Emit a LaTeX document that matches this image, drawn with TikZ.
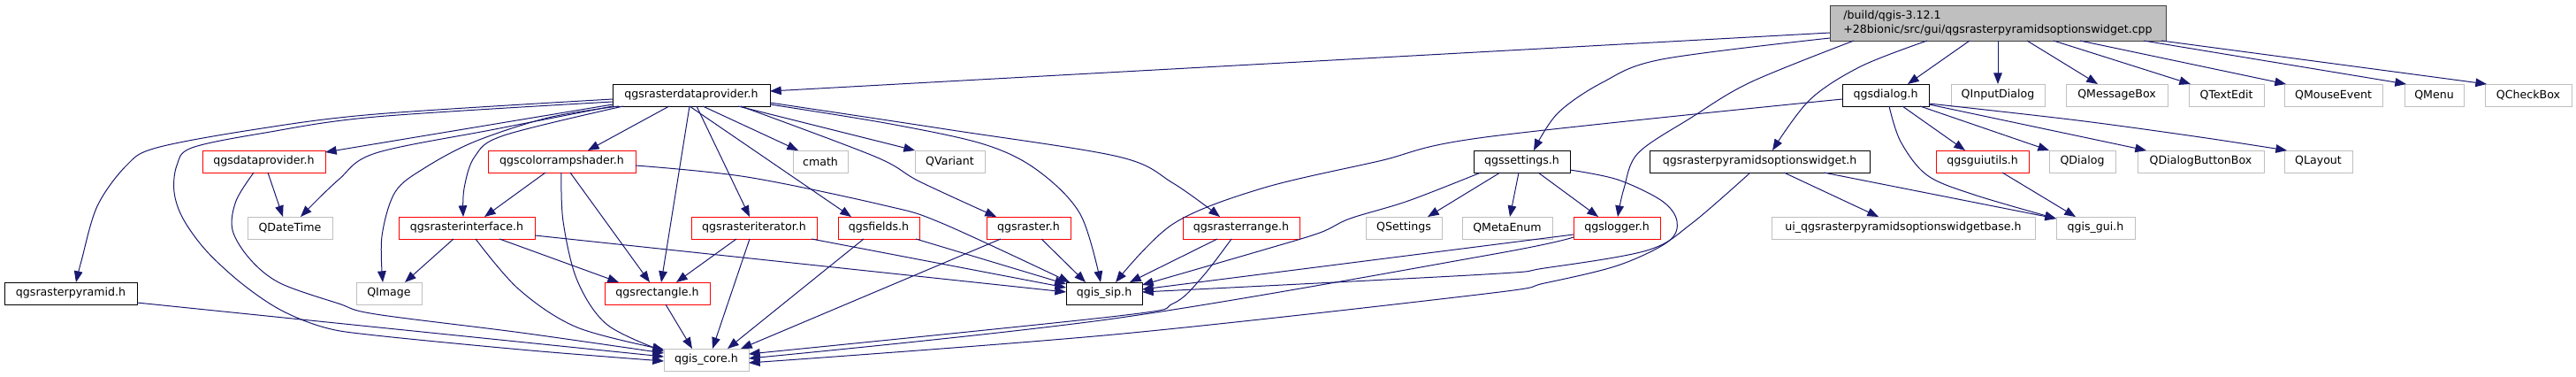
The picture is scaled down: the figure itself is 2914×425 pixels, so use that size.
\documentclass[tikz,border=0pt]{standalone}
\usepackage{fontspec}
\setmainfont{DejaVu Sans}
\usetikzlibrary{arrows.meta}
\definecolor{edgeblue}{HTML}{191970}
\definecolor{lgray}{HTML}{BFBFBF}
\definecolor{dgray}{HTML}{404040}
\newcommand\gn[7]{\node[#6,minimum width={(#4-#2)*0.75pt},minimum height={(#5-#3)*0.75pt}] (#1) at ({(#2+#4)/2},{(#3+#5)/2}) {#7};}
\begin{document}
\begin{tikzpicture}[x=0.75pt,y=-0.75pt,
 box/.style={rectangle,inner sep=0pt,outer sep=0pt,fill=white,line width=0.75pt,font=\fontsize{9.45}{11.3}\selectfont},
 bk/.style={box,draw=black},
 rd/.style={box,draw=red},
 gy/.style={box,draw=lgray},
 rt/.style={box,draw=dgray,fill=lgray,align=left},
 e/.style={draw=edgeblue,line width=0.75pt,-{Triangle[length=9.5pt,width=7.2pt]}},
 sm/.style={smooth,tension=0.55}]
\useasboundingbox (0,0) rectangle (2914,425);
% row 0
\gn{root}{2070}{6}{2450}{46}{rt}{/build/qgis-3.12.1\\+28bionic/src/gui/qgsrasterpyramidsoptionswidget.cpp}
% row 1
\gn{rdp}{693}{95}{871}{120}{bk}{qgsrasterdataprovider.h}
\gn{dlg}{2084}{95}{2182}{120}{bk}{qgsdialog.h}
\gn{qinput}{2207}{95}{2313}{120}{gy}{QInputDialog}
\gn{qmsg}{2337}{95}{2452}{120}{gy}{QMessageBox}
\gn{qtext}{2476}{95}{2561}{120}{gy}{QTextEdit}
\gn{qmouse}{2584}{95}{2695}{120}{gy}{QMouseEvent}
\gn{qmenu}{2720}{95}{2787}{120}{gy}{QMenu}
\gn{qcheck}{2811}{95}{2909}{120}{gy}{QCheckBox}
% row 2
\gn{dp}{229}{170}{368}{195}{rd}{qgsdataprovider.h}
\gn{crs}{552}{170}{719}{195}{rd}{qgscolorrampshader.h}
\gn{cmath}{897}{170}{959}{195}{gy}{cmath}
\gn{qvariant}{1035}{170}{1114}{195}{gy}{QVariant}
\gn{set}{1667}{170}{1776}{195}{bk}{qgssettings.h}
\gn{rpw}{1866}{170}{2115}{195}{bk}{qgsrasterpyramidsoptionswidget.h}
\gn{gutil}{2190}{170}{2295}{195}{rd}{qgsguiutils.h}
\gn{qdialog}{2318}{170}{2393}{195}{gy}{QDialog}
\gn{qdbb}{2418}{170}{2561}{195}{gy}{QDialogButtonBox}
\gn{qlayout}{2584}{170}{2661}{195}{gy}{QLayout}
% row 3
\gn{qdt}{280}{245}{376}{270}{gy}{QDateTime}
\gn{rif}{451}{245}{605}{270}{rd}{qgsrasterinterface.h}
\gn{rit}{782}{245}{924}{270}{rd}{qgsrasteriterator.h}
\gn{fld}{948}{245}{1040}{270}{rd}{qgsfields.h}
\gn{rst}{1116}{245}{1211}{270}{rd}{qgsraster.h}
\gn{rrg}{1338}{245}{1470}{270}{rd}{qgsrasterrange.h}
\gn{qsettings}{1545}{245}{1631}{270}{gy}{QSettings}
\gn{qmeta}{1654}{245}{1756}{270}{gy}{QMetaEnum}
\gn{log}{1780}{245}{1878}{270}{rd}{qgslogger.h}
\gn{ui}{2004}{245}{2302}{270}{gy}{ui\_qgsrasterpyramidsoptionswidgetbase.h}
\gn{gui}{2326}{245}{2415}{270}{gy}{qgis\_gui.h}
% row 4
\gn{pyr}{5}{319}{155}{344}{bk}{qgsrasterpyramid.h}
\gn{qimage}{403}{319}{477}{344}{gy}{QImage}
\gn{rect}{684}{319}{803}{344}{rd}{qgsrectangle.h}
\gn{sip}{1206}{319}{1292}{344}{bk}{qgis\_sip.h}
% row 5
\gn{core}{751}{394}{847}{419}{gy}{qgis\_core.h}

% ---- edges from root
\draw[e] (root.west |- 0,37) -- (rdp.east |- 0,103);
\draw[e] plot[sm] coordinates {(root.west |- 0,43) (1880,67) (1813,93) (1762,128) (set.north -| 1735,0)};
\draw[e] plot[sm] coordinates {(root.south -| 2097,0) (1980,93) (1913,133) (1853,173) (1837,213) (log.north -| 1830,0)};
\draw[e] plot[sm] coordinates {(root.south -| 2180,0) (2105,75) (2047,113) (rpw.north -| 2005,0)};
\draw[e] (root.south -| 2228,0) -- (dlg.north -| 2158,0);
\draw[e] (root.south -| 2260,0) -- (qinput.north -| 2260,0);
\draw[e] (root.south -| 2293,0) -- (qmsg.north -| 2373,0);
\draw[e] (root.south -| 2323,0) -- (qtext.north -| 2478,0);
\draw[e] (root.south -| 2353,0) -- (qmouse.north -| 2586,0);
\draw[e] (root.south -| 2425,0) -- (qmenu.north -| 2722,0);
\draw[e] (root.south -| 2445,0) -- (qcheck.north -| 2813,0);

% ---- edges from qgsrasterdataprovider.h
\draw[e] plot[sm] coordinates {(rdp.west |- 0,112) (425,129) (290,146) (177,167) (143,187) (110,233) (92,295) (pyr.north -| 86,0)};
\draw[e] plot[sm] coordinates {(rdp.west |- 0,115) (425,132) (300,150) (217,167) (200,187) (197,217) (207,247) (233,283) (273,320) (317,350) (367,370) (425,379) (600,396) (core.west |- 0,408)};
\draw[e] (rdp.west |- 0,118) -- (dp.east |- 0,172);
\draw[e] plot[sm] coordinates {(rdp.south west) (560,146) (425,173) (383,203) (qdt.north -| 340,0)};
\draw[e] plot[sm] coordinates {(rdp.south -| 700,0) (620,133) (537,160) (480,190) (447,217) (432,267) (qimage.north -| 433,0)};
\draw[e] plot[sm] coordinates {(rdp.south -| 705,0) (570,153) (537,177) (525,213) (rif.north -| 524,0)};
\draw[e] (rdp.south -| 757,0) -- (crs.north -| 665,0);
\draw[e] (rdp.south -| 780,0) -- (rect.north -| 748,0);
\draw[e] (rdp.south -| 788,0) -- (rit.north -| 848,0);
\draw[e] (rdp.south -| 795,0) -- (cmath.north -| 903,0);
\draw[e] (rdp.south -| 780,0) -- (fld.north -| 963,0);
\draw[e] (rdp.south -| 835,0) -- (qvariant.north -| 1035,0);
\draw[e] plot[sm] coordinates {(rdp.south -| 838,0) (990,177) (1040,205) (rst.north -| 1127,0)};
\draw[e] plot[sm] coordinates {(rdp.east |- 0,118) (1007,140) (1113,163) (1173,192) (1222,242) (sip.north -| 1245,0)};
\draw[e] plot[sm] coordinates {(rdp.east |- 0,116) (1070,146) (1265,177) (1327,207) (rrg.north -| 1380,0)};

% ---- qgsdataprovider.h
\draw[e] (dp.south -| 303,0) -- (qdt.north -| 320,0);
\draw[e] plot[sm] coordinates {(dp.south -| 287,0) (267,227) (263,260) (283,293) (317,320) (383,343) (425,355) (590,376) (core.west |- 0,399)};
% ---- qgsrasterpyramid.h
\draw[e] (pyr.east |- 0,342) -- (core.west |- 0,403);
% ---- qgscolorrampshader.h
\draw[e] (crs.south -| 617,0) -- (rif.north -| 548,0);
\draw[e] plot[sm] coordinates {(crs.south -| 635,0) (637,250) (653,317) (687,367) (core.west |- 0,397)};
\draw[e] (crs.south -| 645,0) -- (rect.north -| 735,0);
\draw[e] plot[sm] coordinates {(crs.east |- 0,187) (845,200) (1000,232) (1065,252) (sip.north -| 1210,0)};
% ---- qgsrasterinterface.h
\draw[e] (rif.south -| 513,0) -- (qimage.north -| 458,0);
\draw[e] plot[sm] coordinates {(rif.south -| 538,0) (587,327) (653,370) (core.west |- 0,395)};
\draw[e] (rif.south -| 565,0) -- (rect.north -| 700,0);
\draw[e] (rif.east |- 0,266) -- (sip.west |- 0,330);
% ---- qgsrasteriterator.h
\draw[e] (rit.south -| 833,0) -- (rect.north -| 765,0);
\draw[e] (rit.south -| 848,0) -- (core.north -| 806,0);
\draw[e] (rit.south -| 918,0) -- (sip.west |- 0,325);
% ---- qgsfields.h
\draw[e] (fld.south -| 977,0) -- (core.north -| 823,0);
\draw[e] (fld.south -| 1036,0) -- (sip.west |- 0,321);
% ---- qgsraster.h
\draw[e] (rst.south -| 1132,0) -- (core.north -| 838,0);
\draw[e] (rst.south -| 1178,0) -- (sip.north -| 1228,0);
% ---- qgsrasterrange.h
\draw[e] (rrg.south -| 1377,0) -- (sip.north -| 1278,0);
\draw[e] plot[sm] coordinates {(rrg.south -| 1393,0) (1360,313) (1327,343) (1265,357) (core.east |- 0,400)};
% ---- qgsrectangle.h
\draw[e] (rect.south -| 753,0) -- (core.north -| 783,0);
% ---- qgssettings.h
\draw[e] (set.south -| 1697,0) -- (qsettings.north -| 1615,0);
\draw[e] (set.south -| 1718,0) -- (qmeta.north -| 1708,0);
\draw[e] (set.south -| 1740,0) -- (log.north -| 1808,0);
\draw[e] plot[sm] coordinates {(set.south -| 1675,0) (1593,227) (1527,247) (1493,263) (1427,283) (sip.east |- 0,322)};
\draw[e] plot[sm] coordinates {(set.east |- 0,192) (1830,203) (1880,227) (1897,250) (1887,273) (1830,300) (1747,320) (1680,332) (1260,378) (core.east |- 0,410)};
% ---- qgslogger.h
\draw[e] (log.west |- 0,265) -- (sip.east |- 0,327);
\draw[e] plot[sm] coordinates {(log.west |- 0,268) (1685,288) (1260,360) (core.east |- 0,405)};
% ---- qgsrasterpyramidsoptionswidget.h
\draw[e] plot[sm] coordinates {(rpw.south -| 1980,0) (1913,253) (1863,283) (1747,303) (1680,310) (sip.east |- 0,330)};
\draw[e] (rpw.south -| 2018,0) -- (ui.north -| 2125,0);
\draw[e] (rpw.south -| 2063,0) -- (gui.west |- 0,247);
% ---- qgsdialog.h
\draw[e] plot[sm] coordinates {(dlg.west |- 0,112) (1680,155) (1560,182) (1427,213) (1327,253) (sip.north -| 1262,0)};
\draw[e] (dlg.south -| 2152,0) -- (gutil.north -| 2223,0);
\draw[e] (dlg.south -| 2172,0) -- (qdialog.north -| 2318,0);
\draw[e] (dlg.east |- 0,118) -- (qdbb.north -| 2428,0);
\draw[e] plot[sm] coordinates {(dlg.east |- 0,117) (2350,136) (2489,155) (qlayout.north -| 2587,0)};
\draw[e] plot[sm] coordinates {(dlg.south -| 2137,0) (2150,160) (2180,198) (2233,220) (gui.west |- 0,247)};
% ---- qgsguiutils.h
\draw[e] (gutil.south -| 2265,0) -- (gui.north -| 2348,0);
\end{tikzpicture}
\end{document}
